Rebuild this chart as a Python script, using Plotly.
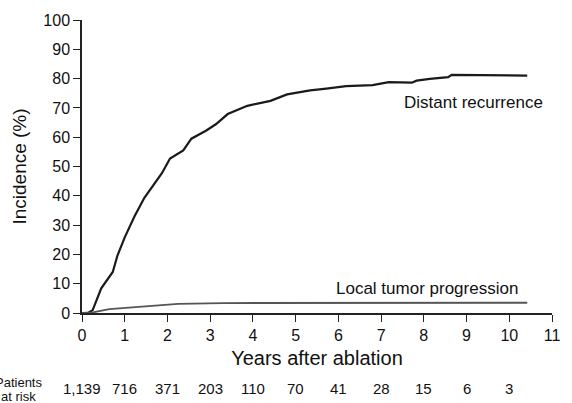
import plotly.graph_objects as go

# Data
distant_years = [0, 0.14, 0.25, 0.45, 0.72, 0.83, 1.0, 1.23, 1.46, 1.68, 1.87, 2.06, 2.37, 2.56,
                 2.91, 3.14, 3.41, 3.87, 4.41, 4.80, 5.34, 5.72, 6.18, 6.80, 7.18, 7.72, 7.83,
                 8.14, 8.57, 8.65, 10.42]
distant_pct = [0, 0, 1.0, 8.4, 14, 19.6, 25.8, 33, 39.3, 43.8, 47.7, 52.7, 55.5, 59.5,
               62.3, 64.5, 67.9, 70.7, 72.4, 74.6, 76, 76.6, 77.4, 77.8, 78.8, 78.6, 79.3,
               79.9, 80.5, 81.3, 81.0]

local_years = [0, 0.2, 0.25, 0.64, 1.03, 1.33, 1.80, 2.1, 2.25, 3.3, 6.42, 10.42]
local_pct = [0, 0, 0.2, 1.3, 1.7, 2.0, 2.5, 2.8, 3.1, 3.4, 3.4, 3.5]

risk_years = [0, 1, 2, 3, 4, 5, 6, 7, 8, 9, 10]
risk_counts = ["1,139", "716", "371", "203", "110", "70", "41", "28", "15", "6", "3"]

x_ticks = list(range(0, 12))
y_ticks = list(range(0, 101, 10))

FONT = "Liberation Sans, Arial, sans-serif"

fig = go.Figure()
fig.add_trace(go.Scatter(x=distant_years, y=distant_pct, mode="lines",
                         line=dict(color="#1a1a1a", width=2.2), showlegend=False))
fig.add_trace(go.Scatter(x=local_years, y=local_pct, mode="lines",
                         line=dict(color="#555555", width=1.8), showlegend=False))

annotations = [
    dict(x=9.17, y=71.7, xref="x", yref="y", text="Distant recurrence", showarrow=False,
         font=dict(size=17, color="#111", family=FONT)),
    dict(x=8.07, y=8.3, xref="x", yref="y", text="Local tumor progression", showarrow=False,
         font=dict(size=17, color="#111", family=FONT)),
    dict(x=(17.5 - 82) / 475, y=(313 - 383) / 297, xref="paper", yref="paper", text="Patients",
         showarrow=False, xanchor="center", yanchor="middle",
         font=dict(size=13, color="#111", family=FONT)),
    dict(x=(17.5 - 82) / 475, y=(313 - 398) / 297, xref="paper", yref="paper", text="at risk",
         showarrow=False, xanchor="center", yanchor="middle",
         font=dict(size=13, color="#111", family=FONT)),
]
for yr, c in zip(risk_years, risk_counts):
    annotations.append(dict(x=yr, y=(313 - 390) / 297, xref="x", yref="paper", text=c,
                            showarrow=False, xanchor="center", yanchor="middle",
                            font=dict(size=15, color="#111", family=FONT)))

fig.update_layout(
    width=572, height=403,
    margin=dict(l=82, r=15, t=16, b=90),
    paper_bgcolor="white", plot_bgcolor="white",
    font=dict(family=FONT, color="#111"),
    annotations=annotations,
    xaxis=dict(range=[0, 11], tickvals=x_ticks, ticks="outside", ticklen=7, tickwidth=1.3,
               tickcolor="#222", showline=True, linecolor="#222", linewidth=1.5,
               showgrid=False, zeroline=False, tickfont=dict(size=16, family=FONT),
               title=dict(text="Years after ablation", font=dict(size=20, family=FONT),
                          standoff=8)),
    yaxis=dict(range=[0, 100], tickvals=y_ticks, ticks="outside", ticklen=7, tickwidth=1.3,
               tickcolor="#222", showline=True, linecolor="#222", linewidth=1.5,
               showgrid=False, zeroline=False, tickfont=dict(size=16, family=FONT),
               title=dict(text="Incidence (%)", font=dict(size=19, family=FONT),
                          standoff=12)),
)

fig.write_html("out.html")
